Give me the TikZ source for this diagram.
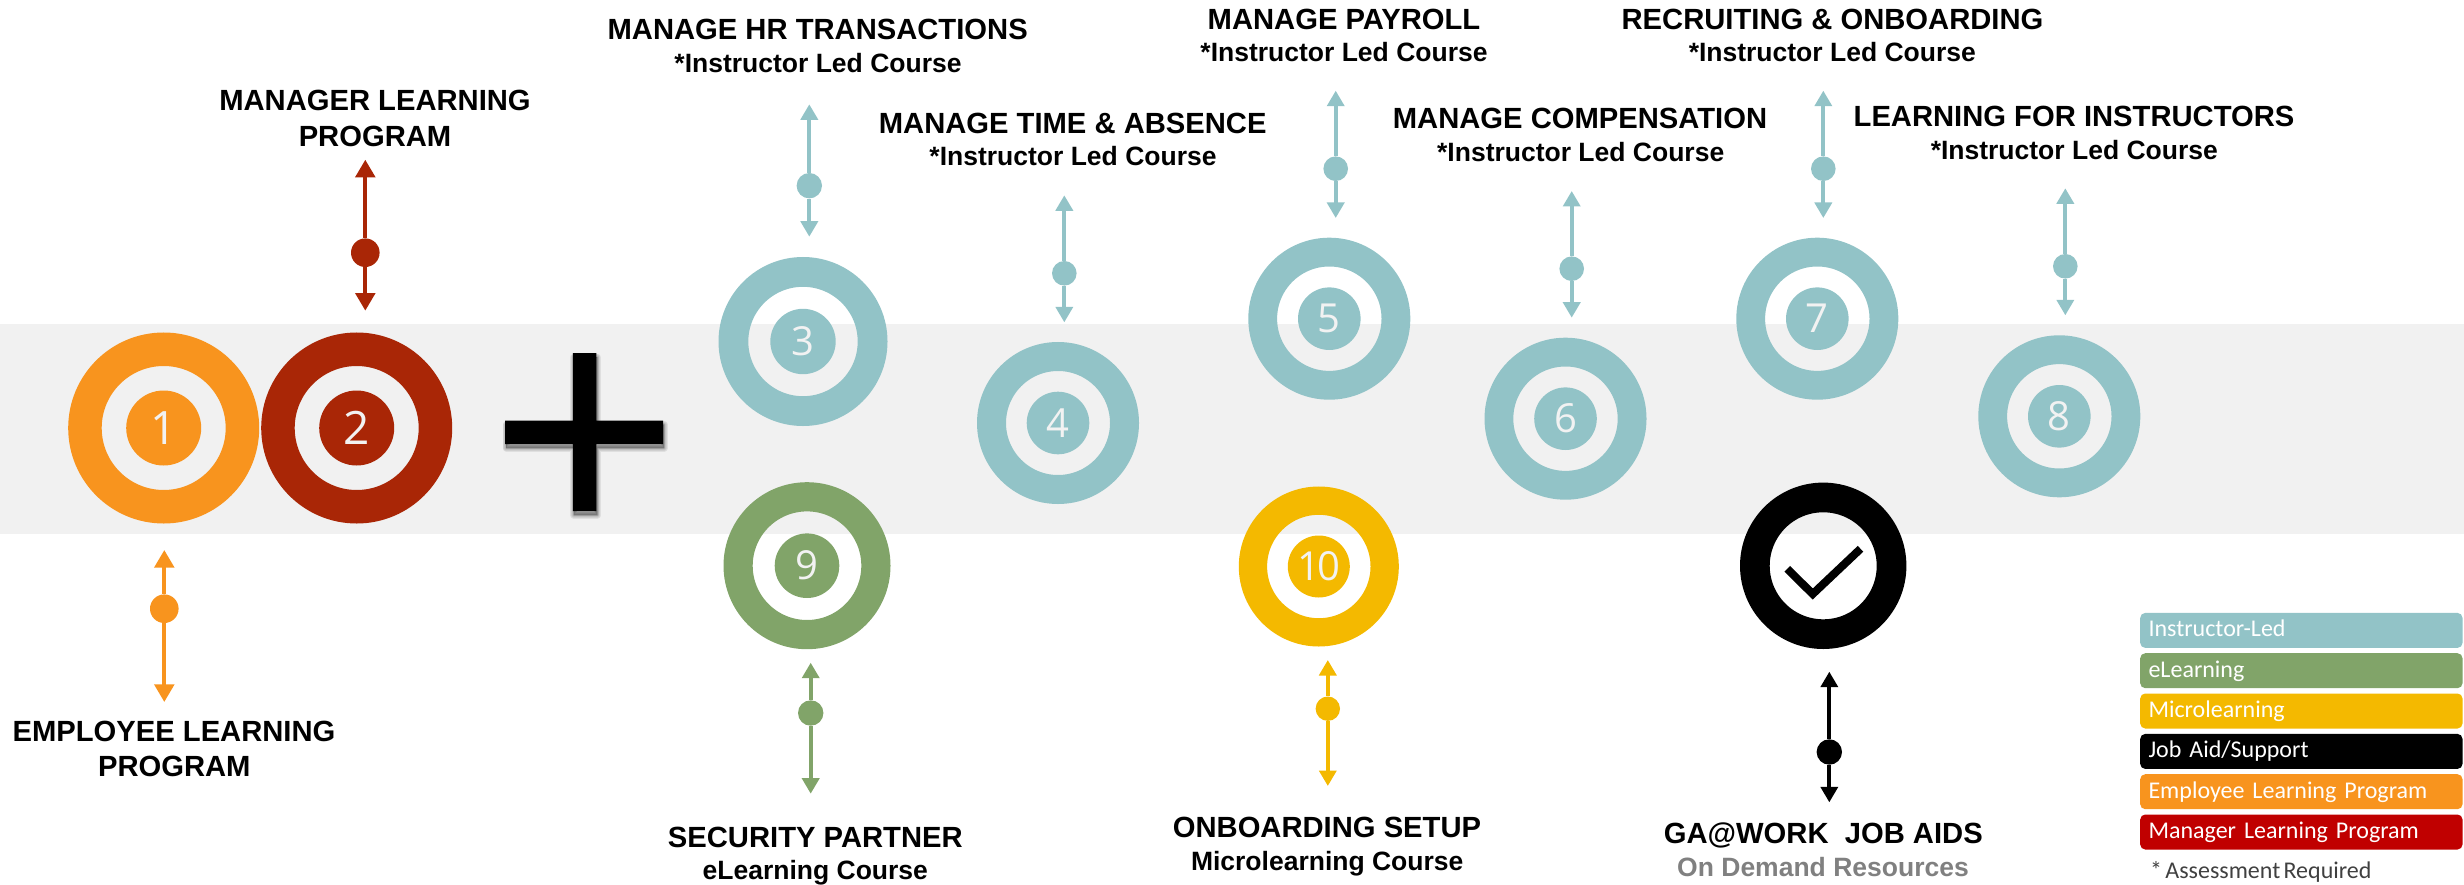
\documentclass[tikz,border=0pt]{standalone}
\usepackage{fontspec}
\setmainfont{Liberation Sans}
\newfontfamily\calib[WordSpace=0.6]{Carlito}
\newfontfamily\digitfont{Open Sans}
\usetikzlibrary{arrows.meta}
\definecolor{teal}{HTML}{92C3C7}
\definecolor{leaf}{HTML}{81A469}
\definecolor{gold}{HTML}{F4B900}
\definecolor{amber}{HTML}{F8941E}
\definecolor{maroon}{HTML}{A92606}
\definecolor{crimson}{HTML}{C00000}
\definecolor{band}{HTML}{F1F1F1}
\definecolor{numtext}{HTML}{F2F2F2}
\definecolor{softgrey}{HTML}{808080}
\definecolor{notegrey}{HTML}{404040}
\tikzset{
  ringnode/.style={circle,draw=#1,fill=none,inner sep=0pt},
  hubnode/.style={circle,fill=#1,inner sep=0pt,text=numtext,font=\digitfont\fontsize{40}{46}\selectfont},
  dotnode/.style={circle,fill=#1,inner sep=0pt},
  tipsmall/.style={line width=3.7pt,{Triangle[length=15.5pt,width=17pt]}-},
  tipbig/.style={line width=4pt,{Triangle[length=17.7pt,width=19.5pt]}-},
  titletext/.style={anchor=base,inner sep=0pt,font=\bfseries\fontsize{29.2}{34}\selectfont},
  subtext/.style={anchor=base,inner sep=0pt,font=\bfseries\fontsize{26.5}{30}\selectfont},
  legendbox/.style={anchor=north west,rounded corners=5pt,fill=#1,inner xsep=0pt,inner ysep=0pt,
    minimum height=35pt,text width=322.3pt,align=left,text=white,text height=24pt,text depth=11pt,
    font=\calib\fontsize{24}{28}\selectfont}
}
% id, x, y, R, r, hub r, colour, number
\newcommand{\bullseye}[8]{%
  \node[ringnode=#7,line width={(#4-#5)*1pt},minimum size={(#4+#5)*1pt}] (c#1) at (#2,#3) {};
  \node[hubnode=#7,minimum size={2*#6*1pt}] (h#1) at (#2,#3) {#8};
}
% id, x, top, bottom, dot y, dot r, colour, tip style
\newcommand{\dumbbell}[8]{%
  \coordinate (t#1) at (#2,#3);
  \coordinate (b#1) at (#2,#4);
  \node[dotnode=#7,minimum size={2*#6*1pt}] (d#1) at (#2,#5) {};
  \draw[#7,#8] (t#1) -- (d#1);
  \draw[#7,#8] (b#1) -- (d#1);
}
\newcommand{\plusshape}{(572.8,353) -- (596.4,353) -- (596.4,420.5) -- (663,420.5) -- (663,444) -- (596.4,444) -- (596.4,511) -- (572.8,511) -- (572.8,444) -- (505,444) -- (505,420.5) -- (572.8,420.5) -- cycle}
\begin{document}
\begin{tikzpicture}[x=1pt,y=-1pt]
\useasboundingbox (0,0) rectangle (2464,885);
\fill[band] (0,324) rectangle (2464,534);
% plus with soft shadow
\foreach \w in {7,5.5,4,2.5,1}{
  \path[fill=black,draw=black,line width=\w pt,opacity=.07,line join=round,shift={(1pt,-4pt)}] \plusshape;
}
\fill[black] \plusshape;
% targets
\bullseye{1}{163.7}{428}{95.5}{62}{37.5}{amber}{\fontsize{46}{50}\selectfont 1}
\bullseye{2}{356.7}{428}{95.5}{62}{37.5}{maroon}{\fontsize{46}{50}\selectfont 2}
\bullseye{3}{803}{341.5}{84.5}{54.7}{32.7}{teal}{3}
\bullseye{4}{1058}{423}{81}{52}{31.3}{teal}{4}
\bullseye{5}{1329.3}{318.7}{81}{52.2}{31.3}{teal}{5}
\bullseye{6}{1565.5}{418.7}{81}{52.2}{31.3}{teal}{6}
\bullseye{7}{1817.3}{318.7}{81}{52.2}{31.3}{teal}{7}
\bullseye{8}{2059.3}{416.3}{81}{52.2}{31.3}{teal}{8}
\bullseye{9}{807}{565.7}{83.5}{54.3}{32.3}{leaf}{9}
\bullseye{10}{1318.8}{566.5}{80}{51.7}{31}{gold}{1\kern-3pt 0}
\node[ringnode=black,line width=29.7pt,minimum size=136.7pt] (c11) at (1823.2,565.8) {};
\draw[black,line width=8pt,miter limit=10] (1787.2,568.8) -- (1812.7,594) -- (1860.5,548.8);
% connectors
\dumbbell{1}{164.3}{550}{702}{608.7}{14.3}{amber}{tipbig}
\dumbbell{2}{365.3}{159.7}{310.7}{252.7}{14.3}{maroon}{tipbig}
\dumbbell{3}{809.3}{104.3}{236.7}{185.7}{12.7}{teal}{tipsmall}
\dumbbell{4}{1064.3}{195.3}{322.3}{273.3}{12.3}{teal}{tipsmall}
\dumbbell{5}{1335.7}{90.7}{218}{168.7}{12.3}{teal}{tipsmall}
\dumbbell{6}{1571.7}{191}{317.7}{268.7}{12.3}{teal}{tipsmall}
\dumbbell{7}{1823.3}{90.7}{218}{168.7}{12.3}{teal}{tipsmall}
\dumbbell{8}{2065.3}{188.3}{315.3}{266.3}{12.3}{teal}{tipsmall}
\dumbbell{9}{810.7}{662.7}{793.7}{713}{12.7}{leaf}{tipsmall}
\dumbbell{10}{1327.8}{660}{786}{708.7}{12.2}{gold}{tipsmall}
\dumbbell{11}{1829.3}{671.7}{802.3}{752}{12.7}{black}{tipsmall}
% labels
\node[titletext] (l3) at (817.7,40) {MANAGE HR TRANSACTIONS};
\node[subtext] (s3) at (818,72.7) {*Instructor Led Course};
\node[titletext] (l4) at (1072.7,134) {MANAGE TIME \& ABSENCE};
\node[subtext] (s4) at (1073,165.7) {*Instructor Led Course};
\node[titletext] (l5) at (1344,29.3) {MANAGE PAYROLL};
\node[subtext] (s5) at (1344,62) {*Instructor Led Course};
\node[titletext] (l6) at (1580,129) {MANAGE COMPENSATION};
\node[subtext] (s6) at (1580.7,162) {*Instructor Led Course};
\node[titletext] (l7) at (1832.5,29.3) {RECRUITING \& ONBOARDING};
\node[subtext] (s7) at (1832.3,62) {*Instructor Led Course};
\node[titletext] (l8) at (2074,126.7) {LEARNING FOR INSTRUCTORS};
\node[subtext] (s8) at (2074.3,159.3) {*Instructor Led Course};
\node[titletext] (l9) at (815.3,847.3) {SECURITY PARTNER};
\node[subtext] (s9) at (815.3,879) {eLearning Course};
\node[titletext] (l10) at (1327,837.7) {ONBOARDING SETUP};
\node[subtext] (s10) at (1327.2,870.7) {Microlearning Course};
\node[titletext] (l11) at (1823.3,843.3) {GA@WORK\ \ JOB AIDS};
\node[subtext,text=softgrey] (s11) at (1823,876) {On Demand Resources};
\node[titletext] (l1a) at (174,741.7) {EMPLOYEE LEARNING};
\node[titletext] (l1b) at (174.3,776.7) {PROGRAM};
\node[titletext] (l2a) at (375,110.7) {MANAGER LEARNING};
\node[titletext] (l2b) at (375,146.7) {PROGRAM};
% legend
\node[legendbox=teal] (k1) at (2140,612.7) {\hspace*{8.3pt}Instructor-Led};
\node[legendbox=leaf] (k2) at (2140,653) {\hspace*{8.3pt}eLearning};
\node[legendbox=gold] (k3) at (2140,693.3) {\hspace*{8.3pt}Microlearning};
\node[legendbox=black] (k4) at (2140,733.7) {\hspace*{8.3pt}Job Aid/Support};
\node[legendbox=amber] (k5) at (2140,774) {\hspace*{8.3pt}Employee Learning Program};
\node[legendbox=crimson] (k6) at (2140,814.3) {\hspace*{8.3pt}Manager Learning Program};
\node[anchor=base west,inner sep=0pt,text=notegrey,font=\calib\fontsize{24}{28}\selectfont] (k7) at (2150,878.7) {* Assessment Required};
\end{tikzpicture}
\end{document}
